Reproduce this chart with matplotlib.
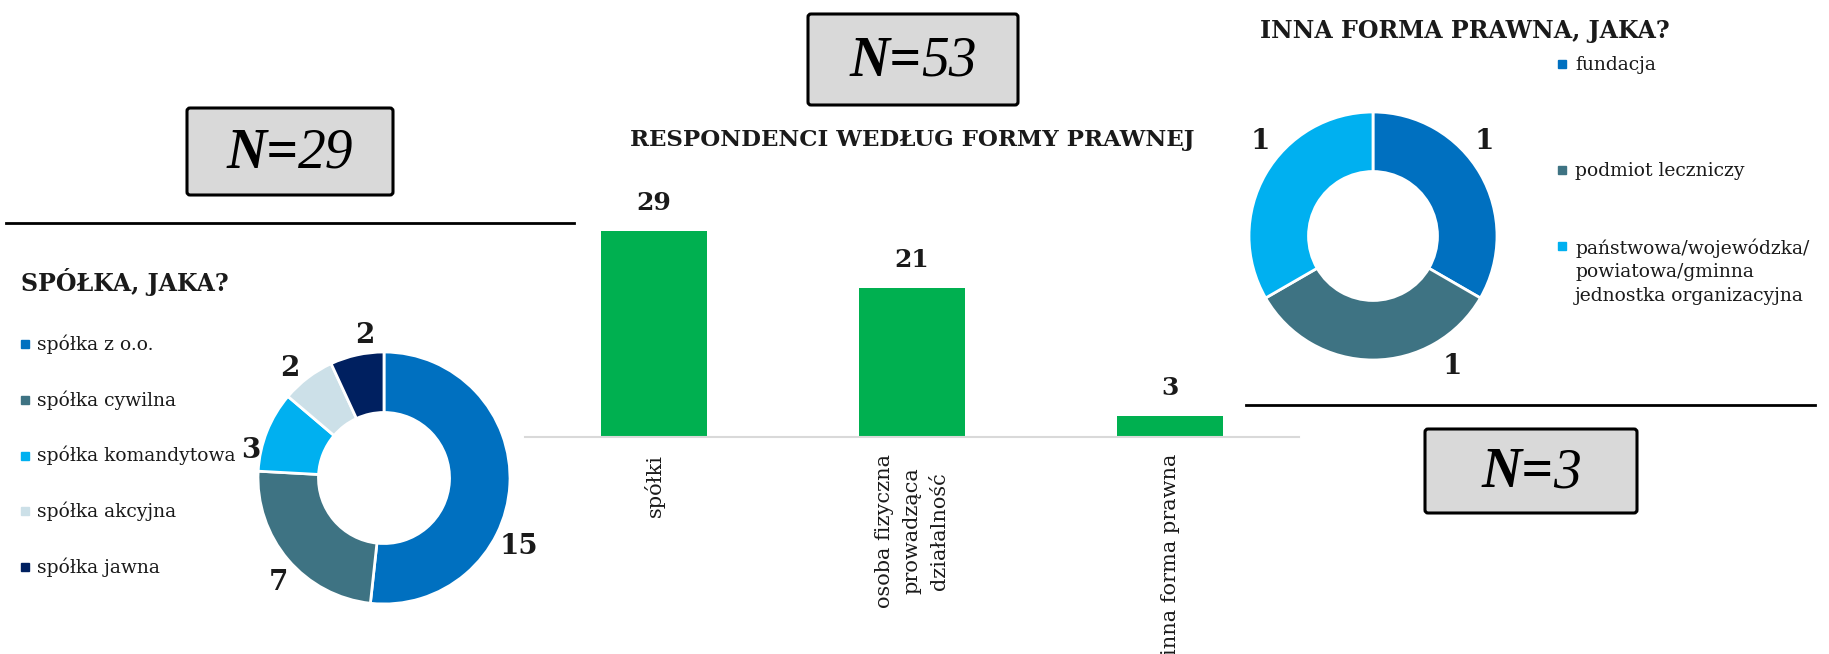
import matplotlib
matplotlib.use("Agg")
import matplotlib.pyplot as plt
from matplotlib.patches import FancyBboxPatch, Rectangle

# data
forma_labels = ['spółki', 'osoba fizyczna\nprowadząca\ndziałalność', 'inna forma prawna']
forma_values = [29, 21, 3]

spolki_labels = ['spółka z o.o.', 'spółka cywilna', 'spółka komandytowa',
                 'spółka akcyjna', 'spółka jawna']
spolki_values = [15, 7, 3, 2, 2]

inna_labels = ['fundacja', 'podmiot leczniczy',
               'państwowa/wojewódzka/\npowiatowa/gminna\njednostka organizacyjna']
inna_values = [1, 1, 1]

# styles
spolki_colors = ['#0070C0', '#3E7383', '#00B0F0', '#CCE0E8', '#002060']
inna_colors = ['#0070C0', '#3E7383', '#00B0F0']
bar_color = '#00B050'
serif = 'DejaVu Serif'
times = 'Liberation Serif'
txt_col = '#1a1a1a'

# label spots on the donuts, in units of the outer radius
spolki_lbl_pos = [(1.07, -0.54), (-0.84, -0.83), (-1.06, 0.22), (-0.75, 0.87), (-0.15, 1.13)]
inna_lbl_pos = [(0.90, 0.76), (0.64, -1.05), (-0.91, 0.76)]

W, H = 1829, 654
fig = plt.figure(figsize=(W / 100, H / 100), dpi=100)
renderer = fig.canvas.get_renderer()


def rect(x0, y0, x1, y1):
    return [x0 / W, 1 - y1 / H, (x1 - x0) / W, (y1 - y0) / H]


# overlay in pixel coords for boxes, lines and legends
ov = fig.add_axes([0, 0, 1, 1], zorder=0)
ov.set_xlim(0, W)
ov.set_ylim(H, 0)
ov.axis('off')


def n_box(x0, y0, x1, y1, n):
    ov.add_patch(FancyBboxPatch((x0, y0), x1 - x0, y1 - y0,
                                boxstyle='round,pad=0,rounding_size=3',
                                fc='#D9D9D9', ec='black', lw=2.2))
    cx, cy = (x0 + x1) / 2, (y0 + y1) / 2 + 2
    t1 = ov.text(cx, cy, 'N=', fontsize=40, style='italic', fontweight='bold',
                 family=times, ha='left', va='center', color='black')
    t2 = ov.text(cx, cy, str(n), fontsize=40, style='italic',
                 family=times, ha='left', va='center', color='black')
    w1 = t1.get_window_extent(renderer).width
    w2 = t2.get_window_extent(renderer).width
    left = cx - (w1 + w2) / 2
    t1.set_x(left)
    t2.set_x(left + w1)


n_box(187, 108, 393, 195, sum(spolki_values))
n_box(808, 14, 1018, 105, sum(forma_values))
n_box(1425, 429, 1637, 513, sum(inna_values))

ov.plot([6, 574], [223, 223], color='black', lw=2)
ov.plot([1246, 1815], [405, 405], color='black', lw=2)

# titles
ov.text(21, 282, 'SPÓŁKA, JAKA?', fontsize=17, fontweight='bold', family=serif,
        ha='left', va='center', color=txt_col)
ov.text(912, 140, 'RESPONDENCI WEDŁUG FORMY PRAWNEJ', fontsize=16.5, fontweight='bold',
        family=serif, ha='center', va='center', color=txt_col)
ov.text(1260, 31, 'INNA FORMA PRAWNA, JAKA?', fontsize=17, fontweight='bold',
        family=serif, ha='left', va='center', color=txt_col)

# left legend
for i, (lab, col) in enumerate(zip(spolki_labels, spolki_colors)):
    y = 344 + i * 55.8
    ov.add_patch(Rectangle((21, y - 4), 8, 8, color=col))
    ov.text(37, y, lab, fontsize=13.5, family=serif, ha='left', va='center', color=txt_col)

# right legend
for lab, col, y in zip(inna_labels, inna_colors, [64, 170, 246]):
    ov.add_patch(Rectangle((1558, y - 4), 8, 8, color=col))
    ov.text(1575, y - 8, lab, fontsize=13.5, family=serif, ha='left', va='top',
            color=txt_col, linespacing=1.42)


def donut(box, values, colors, lbl_pos):
    ax = fig.add_axes(rect(*box), zorder=1)
    ax.pie(values, colors=colors, startangle=90, counterclock=False,
           wedgeprops=dict(width=0.48, edgecolor='white', linewidth=2))
    ax.set_aspect('auto')
    ax.set_xlim(-1, 1)
    ax.set_ylim(-1, 1)
    for v, (x, y) in zip(values, lbl_pos):
        ax.text(x, y, str(v), fontsize=20, fontweight='bold', family=serif,
                ha='center', va='center', color=txt_col)
    return ax


donut((258, 352, 510, 604), spolki_values, spolki_colors, spolki_lbl_pos)
donut((1249, 112, 1497, 360), inna_values, inna_colors, inna_lbl_pos)

# bar chart
axb = fig.add_axes(rect(525, 188, 1299, 437), zorder=1)
axb.patch.set_alpha(0)
bars = axb.bar(range(len(forma_values)), forma_values, width=0.41, color=bar_color)
axb.bar_label(bars, padding=11, fontsize=18, fontweight='bold', family=serif, color=txt_col)
axb.set_xlim(-0.5, 2.5)
axb.set_ylim(0, 35)
axb.set_yticks([])
axb.set_xticks(range(len(forma_values)))
axb.set_xticklabels(forma_labels, rotation=90, fontsize=15, family=serif,
                    va='top', ha='center', multialignment='center', color=txt_col,
                    linespacing=1.55)
axb.tick_params(axis='x', length=0, pad=12)
for s in ['top', 'right', 'left']:
    axb.spines[s].set_visible(False)
axb.spines['bottom'].set_color('#D9D9D9')
axb.spines['bottom'].set_linewidth(1.5)

fig.savefig('out.png', dpi=100, facecolor='white')
